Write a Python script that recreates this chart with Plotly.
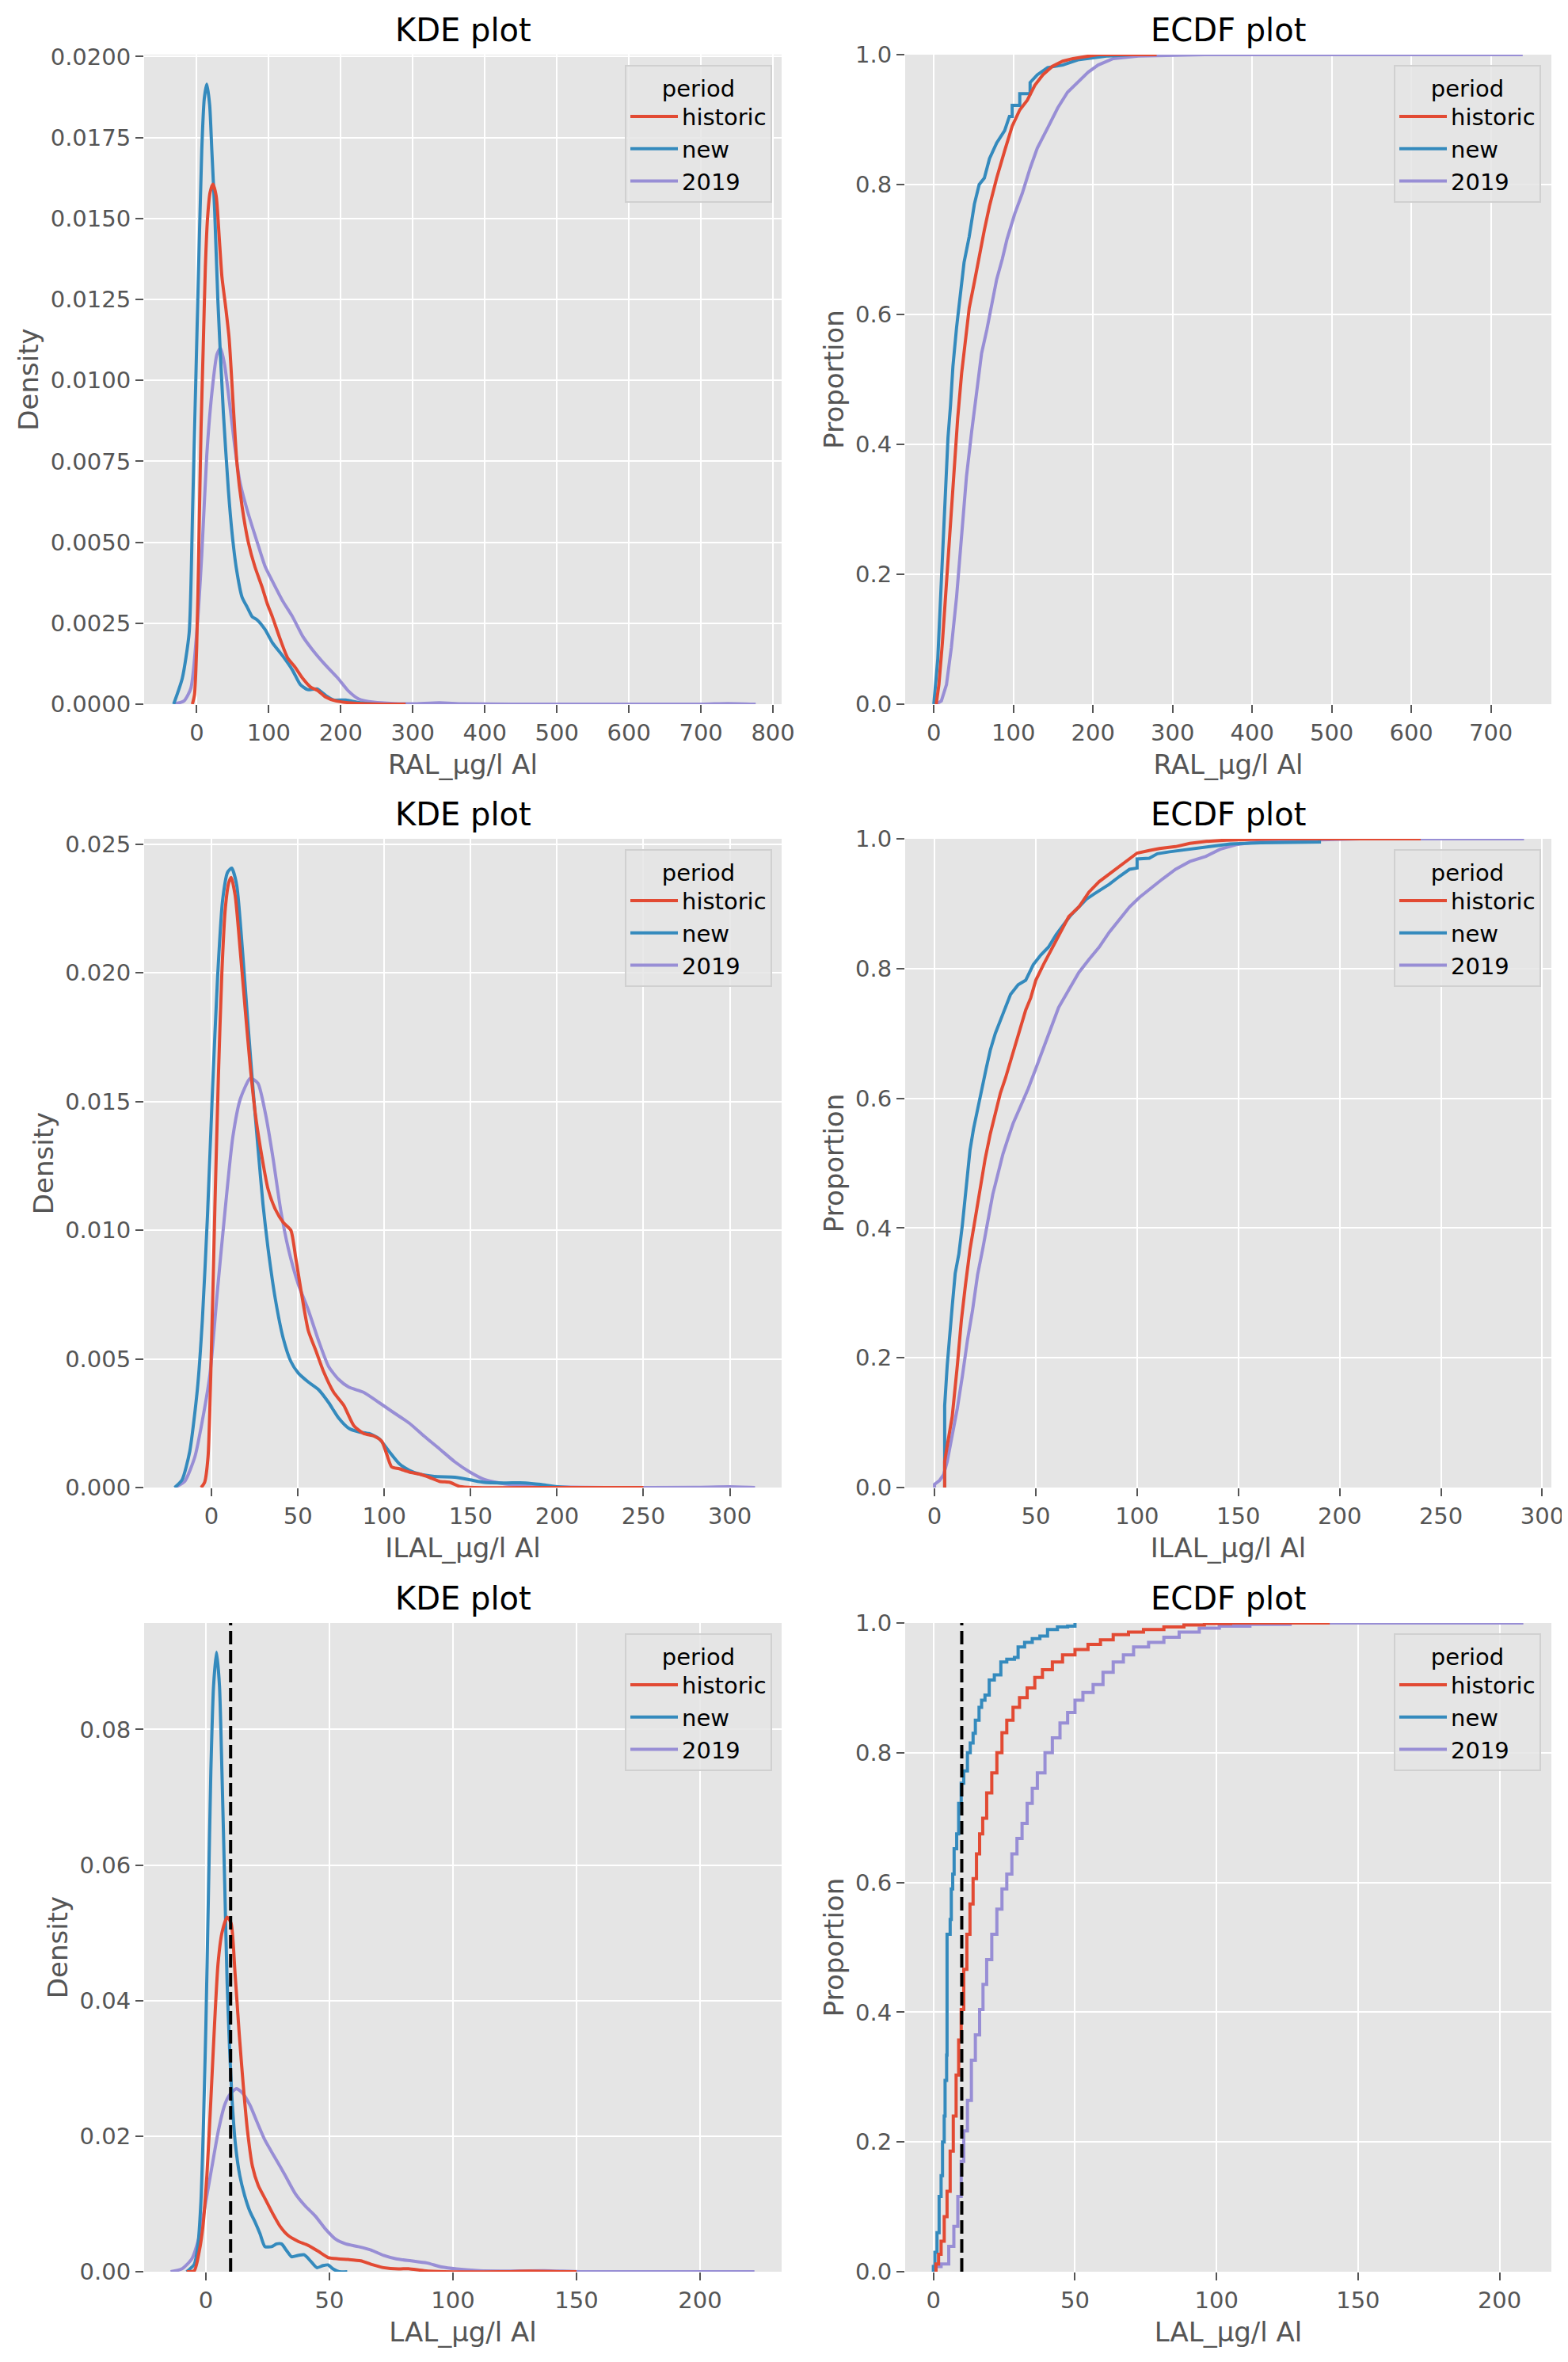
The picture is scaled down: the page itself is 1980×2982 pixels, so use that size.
import plotly.graph_objects as go

# ggplot-style colours
RED = '#E24A33'
BLUE = '#348ABD'
PURPLE = '#988ED5'
GREY_TXT = '#555555'
FONT = 'DejaVu Sans'

# ---------------- RAL ----------------
ral_kde_historic_x = [-6, -3, 0, 3, 6, 9, 12, 15, 18.5, 22.5, 27, 31, 35, 40, 45, 50.5, 56, 63, 71.6, 80.7, 91, 98, 105,
                      116, 126, 137, 147, 158, 168, 179, 193, 218, 260, 290]
ral_kde_historic_y = [0, 0.0003, 0.0018, 0.0050, 0.0085, 0.0110, 0.0135, 0.0150, 0.0158, 0.01606, 0.0157, 0.0145, 0.0132,
                      0.0123, 0.0113, 0.0093, 0.0074, 0.0061, 0.0050, 0.00425, 0.0036, 0.0031, 0.0027, 0.0020, 0.00144,
                      0.00113, 0.0008, 0.00053, 0.00042, 0.00022, 0.0001, 0.00003, 0, 0]
ral_kde_new_x = [-32, -20, -10.5, -5.6, 1.4, 7, 10.5, 14, 18, 21, 25, 29.5, 37, 44, 49, 55, 63, 70, 77, 84, 95, 105, 119,
                 133, 144, 154, 167, 179, 190, 207, 225, 253, 290]
ral_kde_new_y = [0, 0.0008, 0.0022, 0.0061, 0.0124, 0.0171, 0.0187, 0.01915, 0.0185, 0.0171, 0.0152, 0.0124, 0.0090,
                 0.0066, 0.0053, 0.0042, 0.0033, 0.0030, 0.0027, 0.0026, 0.0023, 0.0019, 0.0015, 0.00105, 0.0006,
                 0.00045, 0.00047, 0.00027, 0.00013, 0.00013, 0.00005, 0, 0]
ral_kde_2019_x = [-32, -17.5, -8, 0, 7, 14, 21, 28, 33, 38.6, 45.6, 52.6, 59.6, 70, 84, 95, 105, 119, 133, 147, 161, 179,
                  196, 210, 225, 246, 274, 300, 337, 370, 500, 700, 737, 776]
ral_kde_2019_y = [0, 0.0001, 0.0005, 0.0022, 0.0046, 0.0077, 0.0096, 0.0108, 0.0110, 0.0105, 0.0093, 0.0080, 0.0069,
                  0.0060, 0.0050, 0.00425, 0.0038, 0.0032, 0.0027, 0.0021, 0.00167, 0.0012, 0.0008, 0.00042, 0.00016,
                  0.00006, 0.00002, 0.00001, 0.00004, 0.00001, 0, 0, 0.00002, 0]

ral_ecdf_historic_x = [3, 6.4, 10.8, 15.9, 21, 25.4, 30, 35, 40, 44.5, 51, 57, 63.5, 70, 79, 89, 98.5, 108, 117.5, 127,
                       137, 149, 162, 175, 194, 206, 280]
ral_ecdf_historic_y = [0, 0.03, 0.095, 0.19, 0.28, 0.36, 0.44, 0.51, 0.56, 0.61, 0.65, 0.69, 0.73, 0.767, 0.81, 0.852,
                       0.89, 0.915, 0.93, 0.953, 0.969, 0.982, 0.99, 0.994, 0.998, 1.0, 1.0]
ral_ecdf_new_x = [0, 5, 9.5, 14.6, 17.8, 21, 24, 28.6, 33, 38, 44.5, 51, 57, 63.5, 70, 79, 89, 92, 95, 98.5, 98.5, 108,
                  108, 121, 121, 130, 143, 162, 181, 200, 219, 250, 260]
ral_ecdf_new_y = [0, 0.07, 0.19, 0.34, 0.41, 0.46, 0.52, 0.58, 0.63, 0.68, 0.72, 0.77, 0.80, 0.81, 0.84, 0.864, 0.883,
                  0.895, 0.905, 0.905, 0.922, 0.922, 0.94, 0.94, 0.957, 0.969, 0.98, 0.984, 0.992, 0.995, 0.998, 1.0,
                  1.0]
ral_ecdf_2019_x = [3, 9.5, 15.9, 22, 28.6, 35, 41, 47.6, 54, 60, 66.7, 73, 79, 86, 92, 101.7, 111, 121, 130, 143, 155.7,
                   168, 181, 194, 206.5, 225.5, 257, 300, 340, 740]
ral_ecdf_2019_y = [0, 0.005, 0.03, 0.087, 0.165, 0.266, 0.35, 0.42, 0.48, 0.54, 0.577, 0.615, 0.654, 0.685, 0.716,
                   0.755, 0.786, 0.825, 0.856, 0.887, 0.918, 0.942, 0.957, 0.973, 0.984, 0.994, 0.998, 0.999, 1.0, 1.0]

# ---------------- ILAL ----------------
ilal_kde_historic_x = [-6, -4, -2, 0, 2, 4, 6, 8, 10, 11.4, 13.7, 16.7, 19.6, 22.5, 25.4, 28.3, 32.7, 37, 41.5, 45.9,
                       48.8, 51.7, 56, 60.5, 64.9, 70.7, 76.5, 82.4, 88, 94, 98.5, 101.4, 104.3, 108.7, 114.5, 120, 126,
                       132, 138, 143.7, 152.5, 200, 250]
ilal_kde_historic_y = [0, 0.0002, 0.0012, 0.0055, 0.0110, 0.0160, 0.0200, 0.0225, 0.0235, 0.0237, 0.0230, 0.0208,
                       0.0185, 0.0163, 0.0145, 0.0132, 0.0116, 0.0108, 0.0103, 0.0100, 0.0089, 0.0077, 0.0061, 0.0053,
                       0.0045, 0.0037, 0.0032, 0.0024, 0.0021, 0.0020, 0.0018, 0.0013, 0.0008, 0.00073, 0.0006,
                       0.00053, 0.0004, 0.00024, 0.0002, 0.00004, 0, 0, 0]
ilal_kde_new_x = [-21.3, -17, -12.6, -8.2, -5.3, -2.3, 0.6, 3.5, 6.4, 9.3, 11.7, 14.6, 18, 21, 24, 26.9, 29.8, 32.7, 37,
                  41.5, 45.9, 50.2, 56, 62, 67.8, 73.6, 79.5, 85.3, 91, 97, 102.8, 108.7, 114.5, 120, 129, 140.8,
                  149.6, 158, 170, 181.7, 190.5, 199, 208, 215]
ilal_kde_new_y = [0, 0.0003, 0.0014, 0.0038, 0.0065, 0.0106, 0.0155, 0.0198, 0.0228, 0.0239, 0.02406, 0.0234, 0.0208,
                  0.0181, 0.0155, 0.0132, 0.0110, 0.0093, 0.0073, 0.0058, 0.0049, 0.00445, 0.0041, 0.0038, 0.0033,
                  0.0027, 0.0023, 0.00216, 0.0021, 0.0019, 0.0014, 0.00092, 0.00067, 0.00053, 0.00043, 0.0004, 0.0003,
                  0.0002, 0.00018, 0.00018, 0.00012, 0.00004, 0, 0]
ilal_kde_2019_x = [-21.3, -15.5, -9.6, -5.3, -0.9, 3.5, 7.9, 12.3, 16.7, 22.5, 26.9, 31.3, 35.6, 40, 44.4, 50.2, 56, 62,
                   67.8, 73.6, 79.5, 88, 97, 105.7, 114.5, 123, 132, 140.8, 149.6, 158.4, 170, 184.6, 199, 230, 280,
                   300, 314.6]
ilal_kde_2019_y = [0, 0.00024, 0.0012, 0.0026, 0.0044, 0.0077, 0.0108, 0.0136, 0.0151, 0.0159, 0.0157, 0.0145, 0.0128,
                   0.0108, 0.0093, 0.0079, 0.0069, 0.0057, 0.0047, 0.0042, 0.0039, 0.0037, 0.0033, 0.0029, 0.0025,
                   0.0020, 0.0015, 0.0010, 0.0006, 0.0003, 0.00014, 0.00006, 0.00002, 0, 0.00001, 0.00003, 0]

ilal_ecdf_historic_x = [5, 5, 6.25, 8.75, 11.25, 13.25, 15.25, 17.5, 20, 22.5, 25, 27.5, 30, 32.5, 35, 37.5, 40, 42.5,
                        45, 47.5, 50, 53.75, 57.5, 61.25, 66.25, 71.25, 76.25, 81.25, 86.25, 91.25, 96.25, 100, 106,
                        111, 119, 126, 134, 144, 156, 170, 240]
ilal_ecdf_historic_y = [0, 0.04, 0.064, 0.11, 0.188, 0.258, 0.312, 0.367, 0.413, 0.46, 0.507, 0.545, 0.577, 0.608,
                        0.631, 0.658, 0.681, 0.709, 0.736, 0.755, 0.782, 0.806, 0.829, 0.852, 0.88, 0.895, 0.918, 0.934,
                        0.946, 0.957, 0.969, 0.978, 0.982, 0.985, 0.988, 0.993, 0.996, 0.998, 0.999, 1.0, 1.0]
ilal_ecdf_new_x = [5, 5, 6.25, 7.5, 8.75, 10.2, 12, 13.75, 15.5, 17.5, 19.25, 21.25, 23.25, 25.5, 27.5, 30, 33.75, 37.5,
                   41.25, 45, 48.75, 52.5, 56.25, 60, 63.75, 67.5, 71.25, 75, 78.75, 82.5, 86.25, 91.25, 96.25, 100,
                   100, 106, 110, 116, 126, 136, 146, 161, 176, 190, 190]
ilal_ecdf_new_y = [0, 0.126, 0.188, 0.24, 0.28, 0.33, 0.36, 0.405, 0.46, 0.52, 0.553, 0.584, 0.61, 0.646, 0.674, 0.70,
                   0.73, 0.76, 0.775, 0.782, 0.806, 0.821, 0.833, 0.852, 0.868, 0.883, 0.895, 0.907, 0.915, 0.922,
                   0.93, 0.942, 0.953, 0.955, 0.969, 0.97, 0.977, 0.98, 0.984, 0.987, 0.992, 0.994, 0.994, 0.995, 1.0]
ilal_ecdf_2019_x = [0, 0, 2.5, 4.5, 6.25, 8.75, 11.25, 13.75, 16.25, 18.75, 21.25, 23.75, 26.25, 28.75, 31.25, 33.75,
                    36.25, 38.75, 42.5, 46.25, 50, 53.75, 57.5, 61.25, 66.25, 71.25, 76.25, 81.25, 86.25, 91.25, 96.25,
                    101.25, 106, 112.5, 119, 126, 134, 141, 149, 159, 171, 191, 210, 291]
ilal_ecdf_2019_y = [0, 0.005, 0.011, 0.02, 0.04, 0.079, 0.122, 0.172, 0.227, 0.273, 0.328, 0.367, 0.413, 0.452, 0.483,
                    0.514, 0.538, 0.561, 0.588, 0.615, 0.646, 0.677, 0.709, 0.74, 0.767, 0.794, 0.814, 0.833, 0.856,
                    0.876, 0.895, 0.91, 0.922, 0.938, 0.953, 0.965, 0.973, 0.984, 0.991, 0.995, 0.997, 0.999, 1.0, 1.0]

# ---------------- LAL ----------------
lal_kde_historic_x = [-7.8, -4.7, -2.7, -1.2, 0.4, 2, 3.5, 4.9, 6.5, 8.6, 10.2, 11.8, 13.5, 15.1, 16.8, 18.8, 21.2,
                      23.9, 27, 30, 33.1, 37.2, 41.3, 45.5, 49.4, 53.5, 57.6, 62.7, 66.8, 71.9, 78, 82, 88.3, 96.4, 120,
                      131, 145, 150]
lal_kde_historic_y = [0, 0.00015, 0.003, 0.0067, 0.0142, 0.0253, 0.0365, 0.0454, 0.05, 0.0523, 0.0514, 0.044, 0.035,
                      0.0276, 0.0209, 0.0156, 0.0127, 0.0108, 0.0086, 0.0067, 0.0054, 0.0045, 0.0039, 0.003, 0.0021,
                      0.0019, 0.0018, 0.0016, 0.0011, 0.0006, 0.0004, 0.00045, 0.00015, 0, 0, 0.00008, 0, 0]
lal_kde_new_x = [-7.8, -4.7, -3.3, -2, -1, 0, 1, 2, 3.1, 4.3, 5.5, 6.5, 7.6, 8.6, 9.6, 10.6, 12, 13.7, 15.7, 17.8, 19.8,
                 21.9, 23.9, 26.6, 28.6, 30.6, 32.7, 34.7, 37.2, 39.8, 42.3, 44.9, 47.4, 49.4, 51.5, 53.9, 57.2]
lal_kde_new_y = [0, 0.0011, 0.0037, 0.0104, 0.0216, 0.0365, 0.0551, 0.0737, 0.0864, 0.0914, 0.0864, 0.0737, 0.0574,
                 0.0425, 0.0328, 0.0253, 0.0186, 0.0142, 0.0112, 0.0089, 0.0074, 0.0056, 0.0037, 0.0037, 0.0041,
                 0.0041, 0.0031, 0.0022, 0.0024, 0.0025, 0.0016, 0.0006, 0.0009, 0.001, 0.0004, 0, 0]
lal_kde_2019_x = [-14.3, -9.8, -5.7, -2.7, 0, 2.5, 5.1, 7.6, 9.6, 12.3, 14.7, 17.8, 20.8, 23.9, 28, 32.1, 36.2, 40.2,
                  44.3, 48.4, 52.5, 56.6, 61.7, 66.8, 71.9, 77, 83.1, 89.3, 95.4, 101.5, 110.7, 121, 137, 151.6, 180,
                  222]
lal_kde_2019_y = [0, 0.0004, 0.0019, 0.0052, 0.0104, 0.0156, 0.0209, 0.0246, 0.0261, 0.027, 0.0264, 0.0246, 0.022,
                  0.0194, 0.0168, 0.0142, 0.0115, 0.0097, 0.0082, 0.0063, 0.0048, 0.0041, 0.0037, 0.0032, 0.0024,
                  0.0019, 0.0016, 0.0013, 0.0007, 0.0004, 0.00015, 0.0001, 0.00015, 0, 0, 0]

lal_ecdf_historic_x = [0.4, 0.9, 1.8, 2.7, 3.8, 4.8, 5.9, 7, 8, 8.9, 9.8, 10.7, 11.8, 12.9, 14, 15.2, 16.3, 17.4, 18.8,
                       20.6, 22.4, 24.2, 25.9, 28.1, 30.4, 33.1, 35.8, 38.5, 42, 45.6, 50, 54.6, 59, 63.5, 68.9, 74.2,
                       81.4, 88.5, 95.7, 105, 140]
lal_ecdf_historic_y = [0, 0.012, 0.027, 0.047, 0.085, 0.124, 0.186, 0.24, 0.303, 0.357, 0.404, 0.466, 0.52, 0.567,
                       0.606, 0.644, 0.675, 0.699, 0.738, 0.769, 0.8, 0.831, 0.85, 0.87, 0.885, 0.9, 0.916, 0.928, 0.94,
                       0.951, 0.959, 0.967, 0.974, 0.982, 0.986, 0.99, 0.994, 0.997, 0.999, 1.0, 1.0]
lal_ecdf_new_x = [0, 0, 0.5, 1.25, 2, 2.7, 3.2, 3.8, 4.1, 4.65, 4.8, 5.9, 6.3, 6.8, 7.3, 8.2, 8.9, 9.8, 10.7, 12, 13,
                  14, 14.8, 16.1, 17, 18.2, 19.7, 21.5, 23.8, 25.9, 28.6, 29.9, 32.2, 34.9, 37.6, 40.3, 43.8, 47.4, 50]
lal_ecdf_new_y = [0, 0.008, 0.03, 0.06, 0.116, 0.148, 0.2, 0.24, 0.295, 0.334, 0.52, 0.543, 0.59, 0.613, 0.652, 0.675,
                  0.722, 0.753, 0.772, 0.8, 0.815, 0.83, 0.85, 0.87, 0.881, 0.889, 0.912, 0.92, 0.94, 0.944, 0.947,
                  0.963, 0.97, 0.976, 0.98, 0.99, 0.994, 0.995, 1.0]
lal_ecdf_2019_x = [0, 0, 2.7, 5.4, 7.2, 8.6, 9.8, 10.7, 12, 13.4, 14.8, 16.3, 17.5, 18.8, 20.6, 22.4, 24.2, 25.9, 27.7,
                   29.5, 31.3, 33.1, 34.9, 36.7, 39.4, 42, 44.7, 47.4, 50, 52.8, 56.4, 59.9, 63.5, 67.1, 70.7, 76, 81.4,
                   86.8, 93.9, 101, 111.8, 126, 208.4]
lal_ecdf_2019_y = [0, 0.008, 0.012, 0.039, 0.07, 0.116, 0.17, 0.217, 0.264, 0.326, 0.365, 0.404, 0.443, 0.481, 0.52,
                   0.559, 0.59, 0.613, 0.644, 0.668, 0.691, 0.722, 0.745, 0.769, 0.8, 0.823, 0.846, 0.862, 0.881,
                   0.893, 0.905, 0.924, 0.94, 0.951, 0.963, 0.97, 0.978, 0.986, 0.992, 0.995, 0.998, 1.0, 1.0]

lal_limit = 10  # dashed reference line in the LAL panels

# the page body has an 8px margin, so the figure is shifted by 8px
W, H, OFF = 1972, 2974, 8


def px_x(p):
    return (p - OFF) / W


def px_y(p):
    return 1 - (p - OFF) / H


# plot areas in screen pixels
col_px = [(182, 987), (1143, 1959)]
row_px = [(69, 889), (1059, 1878), (2049, 2868)]
legend_right_px = [975, 1946]
legend_top_px = [82, 1072, 2062]

panels = [
    # (row, col, kind, xlabel, series, xrange, yrange, xtick step, ytick step, yfmt, line shape)
    (0, 0, 'kde', 'RAL_µg/l Al',
     [(ral_kde_historic_x, ral_kde_historic_y), (ral_kde_new_x, ral_kde_new_y), (ral_kde_2019_x, ral_kde_2019_y)],
     [-73, 812], [0, 0.02006], 100, 0.0025, '.4f', 'spline'),
    (0, 1, 'ecdf', 'RAL_µg/l Al',
     [(ral_ecdf_historic_x, ral_ecdf_historic_y), (ral_ecdf_new_x, ral_ecdf_new_y), (ral_ecdf_2019_x, ral_ecdf_2019_y)],
     [-36, 776], [0, 1], 100, 0.2, '.1f', 'linear'),
    (1, 0, 'kde', 'ILAL_µg/l Al',
     [(ilal_kde_historic_x, ilal_kde_historic_y), (ilal_kde_new_x, ilal_kde_new_y), (ilal_kde_2019_x, ilal_kde_2019_y)],
     [-39, 330], [0, 0.0252], 50, 0.005, '.3f', 'spline'),
    (1, 1, 'ecdf', 'ILAL_µg/l Al',
     [(ilal_ecdf_historic_x, ilal_ecdf_historic_y), (ilal_ecdf_new_x, ilal_ecdf_new_y),
      (ilal_ecdf_2019_x, ilal_ecdf_2019_y)],
     [-14.5, 304.5], [0, 1], 50, 0.2, '.1f', 'linear'),
    (2, 0, 'kde', 'LAL_µg/l Al',
     [(lal_kde_historic_x, lal_kde_historic_y), (lal_kde_new_x, lal_kde_new_y), (lal_kde_2019_x, lal_kde_2019_y)],
     [-25, 233], [0, 0.0957], 50, 0.02, '.2f', 'spline'),
    (2, 1, 'ecdf', 'LAL_µg/l Al',
     [(lal_ecdf_historic_x, lal_ecdf_historic_y), (lal_ecdf_new_x, lal_ecdf_new_y), (lal_ecdf_2019_x, lal_ecdf_2019_y)],
     [-10, 218.3], [0, 1], 50, 0.2, '.1f', 'hv'),
]

names = ['historic', 'new', '2019']
colors = [RED, BLUE, PURPLE]

fig = go.Figure()
layout = {}
annotations = []
shapes = []

for i, (r, c, kind, xlabel, series, xr, yr, dx, dy, yfmt, shape) in enumerate(panels):
    n = i + 1
    sfx = '' if n == 1 else str(n)
    leg = 'legend' if n == 1 else 'legend%d' % n
    # seaborn draws the last hue level first
    for k in [2, 1, 0]:
        xs, ys = series[k]
        line = dict(color=colors[k], width=4, shape=shape)
        if shape == 'spline':
            line['smoothing'] = 0.6
        fig.add_trace(go.Scatter(
            x=xs, y=ys, mode='lines', name=names[k], line=line,
            legendgroup='%s_%d' % (names[k], n),
            xaxis='x' + sfx, yaxis='y' + sfx, legend=leg, showlegend=True))

    x0, x1 = px_x(col_px[c][0]), px_x(col_px[c][1])
    y0, y1 = px_y(row_px[r][1]), px_y(row_px[r][0])
    tick = dict(showgrid=True, gridcolor='white', gridwidth=2, zeroline=False, showline=False,
                ticks='outside', ticklen=10, tickwidth=2, tickcolor=GREY_TXT,
                tickfont=dict(size=29, color=GREY_TXT, family=FONT), automargin=False)
    layout['xaxis' + sfx] = dict(tick, domain=[x0, x1], anchor='y' + sfx, range=xr, dtick=dx, tick0=0,
                                 title=dict(text=xlabel, font=dict(size=34, color=GREY_TXT, family=FONT), standoff=12))
    layout['yaxis' + sfx] = dict(tick, domain=[y0, y1], anchor='x' + sfx, range=yr, dtick=dy, tick0=0,
                                 tickformat=yfmt,
                                 title=dict(text='Density' if kind == 'kde' else 'Proportion',
                                            font=dict(size=34, color=GREY_TXT, family=FONT), standoff=4))
    layout[leg] = dict(x=px_x(legend_right_px[c]), y=px_y(legend_top_px[r]), xanchor='right', yanchor='top',
                       xref='paper', yref='paper', traceorder='reversed', tracegroupgap=4, itemwidth=60,
                       bgcolor='rgba(229,229,229,0.85)', bordercolor='#D0D0D0', borderwidth=2,
                       font=dict(size=29, color='black', family=FONT),
                       title=dict(text='period', side='top center', font=dict(size=29, color='black', family=FONT)))
    annotations.append(dict(text='KDE plot' if kind == 'kde' else 'ECDF plot', showarrow=False,
                            x=(x0 + x1) / 2, y=y1, xref='paper', yref='paper',
                            xanchor='center', yanchor='bottom', yshift=6,
                            font=dict(size=40, color='black', family=FONT)))
    if r == 2:
        shapes.append(dict(type='line', xref='x' + sfx, yref='y' + sfx + ' domain', x0=lal_limit, x1=lal_limit,
                           y0=0, y1=1, line=dict(color='black', width=4, dash='17px,7px')))

fig.update_layout(
    width=W, height=H,
    margin=dict(l=0, r=0, t=0, b=0),
    paper_bgcolor='white', plot_bgcolor='#E5E5E5',
    font=dict(family=FONT, color=GREY_TXT),
    annotations=annotations, shapes=shapes,
    **layout
)

fig.write_html('out.html')
